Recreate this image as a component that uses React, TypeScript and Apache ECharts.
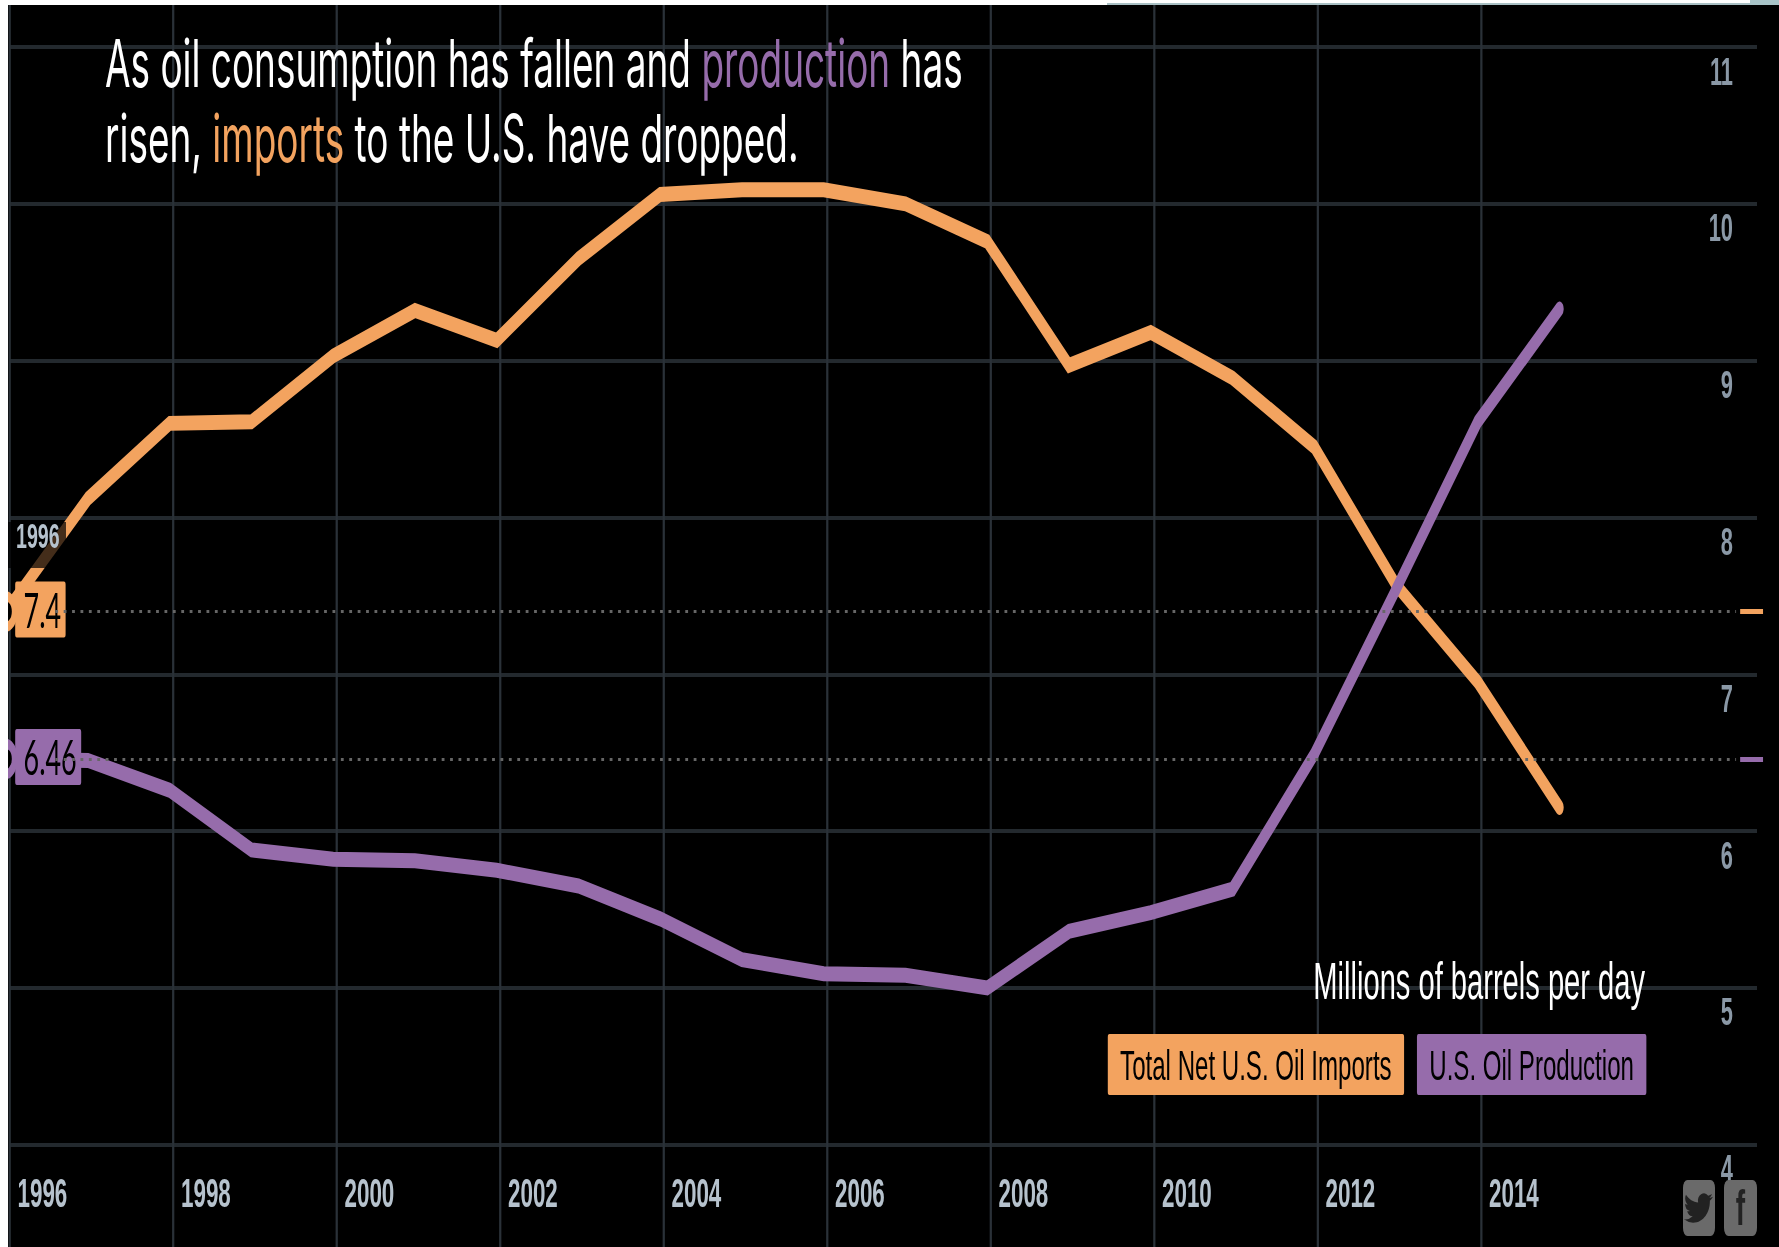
import React, { useEffect, useRef } from "react";
import * as echarts from "echarts";

const years = [1996,1997,1998,1999,2000,2001,2002,2003,2004,2005,2006,2007,2008,2009,2010,2011,2012,2013,2014,2015];
const imports = [7.4,8.12,8.6,8.61,9.03,9.32,9.13,9.65,10.06,10.09,10.09,10.0,9.76,8.97,9.18,8.89,8.45,7.57,6.95,6.15];
const production = [6.46,6.45,6.26,5.88,5.82,5.81,5.75,5.65,5.44,5.18,5.09,5.08,5.0,5.36,5.48,5.63,6.49,7.54,8.61,9.33];
const yTicks = [4,5,6,7,8,9,10,11];
const xTickYears = [1996,1998,2000,2002,2004,2006,2008,2010,2012,2014];
const titleLine1 = ["As oil consumption has fallen and ", "production", " has"];
const titleLine2 = ["risen, ", "imports", " to the U.S. have dropped."];
const axisTitle = "Millions of barrels per day";
const importsName = "Total Net U.S. Oil Imports";
const productionName = "U.S. Oil Production";

const ORANGE = "#f3a35f";
const PURPLE = "#966cab";
const GRID_H = "#23292e";
const GRID_V = "#2a3138";
const K = 0.56;
const W = 1771 / K;
const H = 1300;
const sx = (x: number) => (x - 8) / K;
const sy = (y: number) => y - 5;

const TWITTER = "M23.953 4.57a10 10 0 0 1-2.825.775 4.958 4.958 0 0 0 2.163-2.723c-.951.555-2.005.959-3.127 1.184a4.92 4.92 0 0 0-8.384 4.482C7.69 8.095 4.067 6.13 1.64 3.162a4.822 4.822 0 0 0-.666 2.475c0 1.71.87 3.213 2.188 4.096a4.904 4.904 0 0 1-2.228-.616v.06a4.923 4.923 0 0 0 3.946 4.827 4.996 4.996 0 0 1-2.212.085 4.936 4.936 0 0 0 4.604 3.417 9.867 9.867 0 0 1-6.102 2.105c-.39 0-.779-.023-1.17-.067a13.995 13.995 0 0 0 7.557 2.209c9.053 0 13.998-7.496 13.998-13.985 0-.21 0-.42-.015-.63A9.935 9.935 0 0 0 24 4.59z";
echarts.graphic.registerShape("twitterBird", echarts.graphic.extendPath(TWITTER, {}) as any);

const lineSeries = (name: string, values: number[], color: string, labelText: string) => ({
  name,
  type: "line",
  xAxisIndex: 1,
  yAxisIndex: 2,
  clip: false,
  symbol: "none",
  showSymbol: true,
  showAllSymbol: true,
  silent: true,
  z: 3,
  lineStyle: { color, width: 15, cap: "round", join: "miter" },
  itemStyle: { color },
  data: years.map((y, i) =>
    i === 0
      ? {
          value: [y, values[i]],
          symbol: "circle",
          symbolSize: 30,
          itemStyle: { color: "#000", borderColor: color, borderWidth: 10 },
          label: {
            show: true,
            position: "right",
            distance: -4,
            offset: [0, -2],
            formatter: labelText,
            color: "#000",
            backgroundColor: color,
            borderRadius: 3,
            padding: [4, 8, 4, 15],
            lineHeight: 48,
            fontFamily: "Lato",
            fontSize: 48,
          },
        }
      : [y, values[i]],
  ),
  markLine: {
    silent: true,
    symbol: "none",
    label: { show: false },
    data: [
      [
        { coord: [1996.6, values[0]], lineStyle: { color: "#666", type: [5, 10], width: 3 } },
        { coord: [2017.16, values[0]] },
      ],
      [
        { coord: [2017.21, values[0]], lineStyle: { color, type: "solid", width: 5 } },
        { coord: [2017.49, values[0]] },
      ],
    ],
  },
});

export default function App() {
  const ref = useRef<HTMLDivElement>(null);
  useEffect(() => {
    const chart = echarts.init(ref.current!, undefined, { renderer: "svg" });
    const gridH = sy(1301.5);
    chart.setOption({
      animation: false,
      backgroundColor: "#000",
      title: {
        left: sx(105),
        top: sy(25),
        padding: 0,
        text:
          `{w|${titleLine1[0]}}{p|${titleLine1[1]}}{w|${titleLine1[2]}}\n` +
          `{w|${titleLine2[0]}}{o|${titleLine2[1]}}{w|${titleLine2[2]}}`,
        textStyle: {
          rich: {
            w: { color: "#fff", fontFamily: "Inter", fontWeight: 400, fontSize: 66, lineHeight: 75 },
            p: { color: PURPLE, fontFamily: "Inter", fontWeight: 400, fontSize: 66, lineHeight: 75 },
            o: { color: ORANGE, fontFamily: "Inter", fontWeight: 400, fontSize: 66, lineHeight: 75 },
          },
        },
      },
      legend: {
        left: sx(1105),
        top: sy(1034),
        icon: "none",
        itemWidth: 0,
        itemHeight: 0,
        itemGap: 18,
        padding: 0,
        selectedMode: false,
        data: [
          {
            name: importsName,
            icon: "none",
            textStyle: { color: "#000", backgroundColor: ORANGE, borderRadius: 3, padding: [9, 22, 9, 22], fontFamily: "Liberation Sans", fontSize: 43 },
          },
          {
            name: productionName,
            icon: "none",
            textStyle: { color: "#000", backgroundColor: PURPLE, borderRadius: 3, padding: [9, 22, 9, 22], fontFamily: "Liberation Sans", fontSize: 43 },
          },
        ],
      },
      grid: [
        { left: sx(9.5), width: sx(1757) - sx(9.5), top: 0, height: gridH, containLabel: false },
        { left: sx(9.5), width: sx(1560) - sx(9.5), top: 0, height: gridH, containLabel: false },
        { left: sx(9.5), width: sx(1775) - sx(9.5), top: 0, height: gridH, containLabel: false },
      ],
      xAxis: [
        {
          type: "value",
          gridIndex: 1,
          min: 1996,
          max: 1996 + (1560 - 9.5) / 81.75,
          interval: 2,
          position: "bottom",
          offset: -128.5,
          axisLine: { show: false },
          axisTick: { show: false },
          splitLine: { show: true, showMaxLine: false, lineStyle: { color: GRID_V, width: 4 } },
          axisLabel: {
            margin: 0,
            showMaxLabel: false,
            align: "left",
            verticalAlign: "top",
            padding: [0, 0, 0, 8 / K],
            color: "#b6c2cd",
            fontFamily: "Liberation Sans",
            fontWeight: "bold",
            fontSize: 40,
            formatter: (v: number) => (xTickYears.includes(v) ? String(v) : ""),
          },
        },
        {
          type: "value",
          gridIndex: 2,
          min: 1996.04,
          max: 1996.04 + (1775 - 9.5) / 81.75,
          show: false,
        },
        {
          type: "value",
          gridIndex: 0,
          min: 1996,
          max: 2017,
          show: false,
        },
      ],
      yAxis: [
        {
          type: "value",
          gridIndex: 0,
          min: 3,
          max: 11.268,
          interval: 1,
          position: "right",
          axisLine: { show: false },
          axisTick: { show: false },
          splitLine: { show: true, showMaxLine: false, lineStyle: { color: GRID_H, width: 4 } },
          axisLabel: {
            inside: true,
            margin: 24 / K,
            showMaxLabel: false,
            align: "right",
            verticalAlign: "top",
            lineHeight: 48,
            color: "#8a98a6",
            fontFamily: "Liberation Sans",
            fontWeight: "bold",
            fontSize: 39,
            formatter: (v: number) => (yTicks.includes(v) ? String(v) : ""),
          },
        },
        { type: "value", gridIndex: 1, min: 3, max: 11.268, interval: 1, show: false },
        { type: "value", gridIndex: 2, min: 3, max: 11.268, interval: 1, show: false },
      ],
      series: [
        lineSeries(importsName, imports, ORANGE, String(imports[0])),
        lineSeries(productionName, production, PURPLE, String(production[0])),
      ],
      graphic: [
        { type: "rect", z: 20, shape: { x: sx(8), y: sy(522), width: 58 / K, height: 46 }, style: { fill: "rgba(0,0,0,0.72)" } },
        { type: "text", z: 21, x: sx(16), y: sy(518), style: { text: "1996", fill: "#b6c2cd", font: "bold 35px 'Liberation Sans'" } },
        {
          type: "text",
          z: 21,
          x: sx(1645),
          y: sy(955),
          style: { text: axisTitle, fill: "#fff", font: "52px 'Liberation Sans'", textAlign: "right" },
        },
        { type: "rect", z: 30, shape: { x: sx(1683), y: sy(1180), width: 32 / K, height: 56, r: 8 }, style: { fill: "#6a6a6a" } },
        { type: "rect", z: 30, shape: { x: sx(1724), y: sy(1180), width: 33 / K, height: 56, r: 8 }, style: { fill: "#6a6a6a" } },
        { type: "twitterBird", z: 31, x: sx(1684), y: sy(1190), scaleX: 1.2 / K, scaleY: 1.5, style: { fill: "#222" } },
        { type: "text", z: 31, x: sx(1740.5), y: sy(1183), style: { text: "f", fill: "#222", font: "bold 50px 'Liberation Sans'", textAlign: "center" } },
      ],
    });
    return () => chart.dispose();
  }, []);
  return (
    <div style={{ position: "fixed", inset: 0, background: "#fff", overflow: "hidden" }}>
      <div style={{ position: "absolute", left: 1107, top: 3, width: 643, height: 2, background: "#a9c0c4" }} />
      <div style={{ position: "absolute", left: 1750, top: 0, width: 29, height: 5, background: "#a9c4c8" }} />
      <div style={{ position: "absolute", left: 8, top: 5, width: 1771, height: 1242, overflow: "hidden", filter: "blur(0.6px)" }}>
        <div
          ref={ref}
          style={{ width: W, height: H, transform: `scaleX(${K})`, transformOrigin: "0 0" }}
        />
      </div>
    </div>
  );
}
